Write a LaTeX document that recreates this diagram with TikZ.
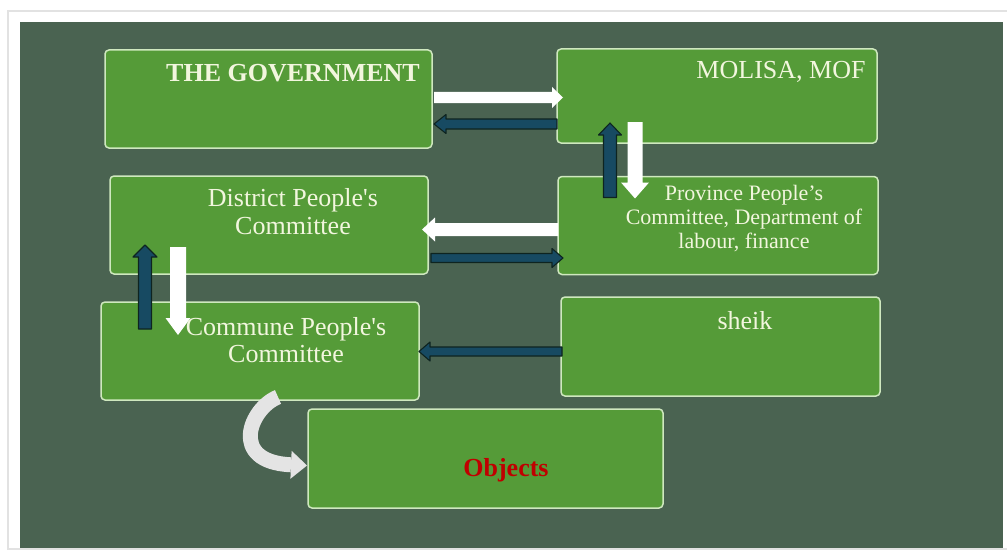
\documentclass[tikz,border=0pt]{standalone}
\usepackage{fontspec}
\setmainfont{Liberation Serif}
\newfontfamily\plainserif{Liberation Serif}
\usetikzlibrary{calc,arrows.meta}
\definecolor{panel}{HTML}{4A6351}
\definecolor{boxfill}{HTML}{559B38}
\definecolor{boxline}{HTML}{CFE8BF}
\definecolor{txt}{HTML}{F2F6DE}
\definecolor{darr}{HTML}{174A62}
\definecolor{darrline}{HTML}{0E2420}
\definecolor{objred}{HTML}{C00000}
\definecolor{curvecol}{HTML}{E4E4E4}
\definecolor{frame}{HTML}{E2E2E2}
% #1 style, #2 from, #3 to, #4 half shaft, #5 half head, #6 head length
\newcommand\blockarrow[6]{%
  \coordinate (ba-h) at ($(#3)!#6!(#2)$);
  \path[#1] ($(#2)!#4!90:(#3)$) -- ($(ba-h)!#4!90:(#3)$) -- ($(ba-h)!#5!90:(#3)$) -- (#3)
    -- ($(ba-h)!#5!-90:(#3)$) -- ($(ba-h)!#4!-90:(#3)$) -- ($(#2)!#4!-90:(#3)$) -- cycle;
}
\begin{document}
\begin{tikzpicture}[x=1pt,y=-1pt,
  box/.style={draw=boxline, line width=1.5pt, fill=boxfill, rounded corners=4pt,
    inner sep=0pt, outer sep=0pt},
  lbl/.style={text=txt, inner sep=0pt, align=center},
  whitearrow/.style={fill=white},
  darkarrow/.style={fill=darr, draw=darrline, line width=1.1pt, line join=round},
  curvearrow/.style={draw=curvecol, line width=15pt, -{Triangle[length=16pt,width=28pt,line width=0pt]}}
]
\useasboundingbox (0,0) rectangle (1007,551);
\fill[white] (0,0) rectangle (1007,551);
\draw[frame, line width=1.5pt] (8,11) rectangle (1010,549);
\fill[panel] (20,22) rectangle (1003,548);

% boxes
\node[box, minimum width=327pt, minimum height=98pt] (gov) at (268.5,99) {};
\node[box, minimum width=320pt, minimum height=94pt] (mol) at (717,96) {};
\node[box, minimum width=318pt, minimum height=98pt] (dis) at (269,225) {};
\node[box, minimum width=320pt, minimum height=98pt] (pro) at (718,225.5) {};
\node[box, minimum width=318pt, minimum height=98pt] (com) at (260,351) {};
\node[box, minimum width=319pt, minimum height=99pt] (she) at (720.5,346.5) {};
\node[box, minimum width=355pt, minimum height=99pt] (obj) at (485.5,458.5) {};

% texts
\node[lbl, font=\plainserif\fontsize{26}{28}\selectfont\bfseries] (govt) at (293,73) {THE GOVERNMENT};
\node[lbl, font=\plainserif\fontsize{26}{28}\selectfont] (molt) at (781,72) {MOLISA, MOF};
\node[lbl, font=\plainserif\fontsize{26}{28}\selectfont] (dist) at (293,212) {District People's\\Committee};
\node[lbl, font=\plainserif\fontsize{22}{24}\selectfont] (prot) at (744,219) {Province People’s\\Committee, Department of\\labour, finance};
\node[lbl, font=\plainserif\fontsize{26}{27}\selectfont] (comt) at (286,340) {Commune People's\\Committee};
\node[lbl, font=\plainserif\fontsize{26}{28}\selectfont] (shet) at (745,321) {sheik};
\node[lbl, text=objred, font=\plainserif\fontsize{26}{28}\selectfont\bfseries] (objt) at (506,470) {Objects};

% arrow end points
\coordinate (a1s) at ($(gov.east)+(2,-1.5)$);
\coordinate (a1e) at ($(mol.west)+(6,1.5)$);
\coordinate (a2s) at ($(mol.west)+(0,28)$);
\coordinate (a2e) at ($(gov.east)+(2,25)$);
\coordinate (a3s) at ($(pro.north west)+(52,21)$);
\coordinate (a3e) at ($(mol.south west)+(53,-20)$);
\coordinate (a4s) at ($(mol.south west)+(78,-21)$);
\coordinate (a4e) at ($(pro.north west)+(77,22)$);
\coordinate (a5s) at ($(pro.west)+(0,4)$);
\coordinate (a5e) at ($(dis.east)+(-6,4.5)$);
\coordinate (a6s) at ($(dis.east)+(3,33)$);
\coordinate (a6e) at ($(pro.west)+(5,32.5)$);
\coordinate (a7s) at ($(com.north west)+(44,27)$);
\coordinate (a7e) at ($(dis.south west)+(35,-29)$);
\coordinate (a8s) at ($(dis.south west)+(68,-27)$);
\coordinate (a8e) at ($(com.north west)+(77,33)$);
\coordinate (a9s) at ($(she.west)+(1,5)$);
\coordinate (a9e) at ($(com.east)+(0,0.5)$);
\coordinate (cs) at ($(com.south)+(18,-3)$);
\coordinate (cc1) at (250,408);
\coordinate (cc2) at (228,462);
\coordinate (ce) at ($(obj.west)+(-1,7)$);

% arrows
\blockarrow{whitearrow}{a1s}{a1e}{5.5pt}{10.5pt}{11pt}
\blockarrow{darkarrow}{a2s}{a2e}{5pt}{9.5pt}{12pt}
\blockarrow{darkarrow}{a3s}{a3e}{6.5pt}{11.5pt}{12pt}
\blockarrow{whitearrow}{a4s}{a4e}{7.5pt}{14pt}{16pt}
\blockarrow{whitearrow}{a5s}{a5e}{6.5pt}{12pt}{13pt}
\blockarrow{darkarrow}{a6s}{a6e}{4.5pt}{9.5pt}{11pt}
\blockarrow{darkarrow}{a7s}{a7e}{6.5pt}{12pt}{12pt}
\blockarrow{whitearrow}{a8s}{a8e}{8pt}{12.5pt}{17pt}
\blockarrow{darkarrow}{a9s}{a9e}{4.5pt}{9.5pt}{11pt}
\draw[curvearrow] (cs) .. controls (cc1) and (cc2) .. (ce);
\end{tikzpicture}
\end{document}
